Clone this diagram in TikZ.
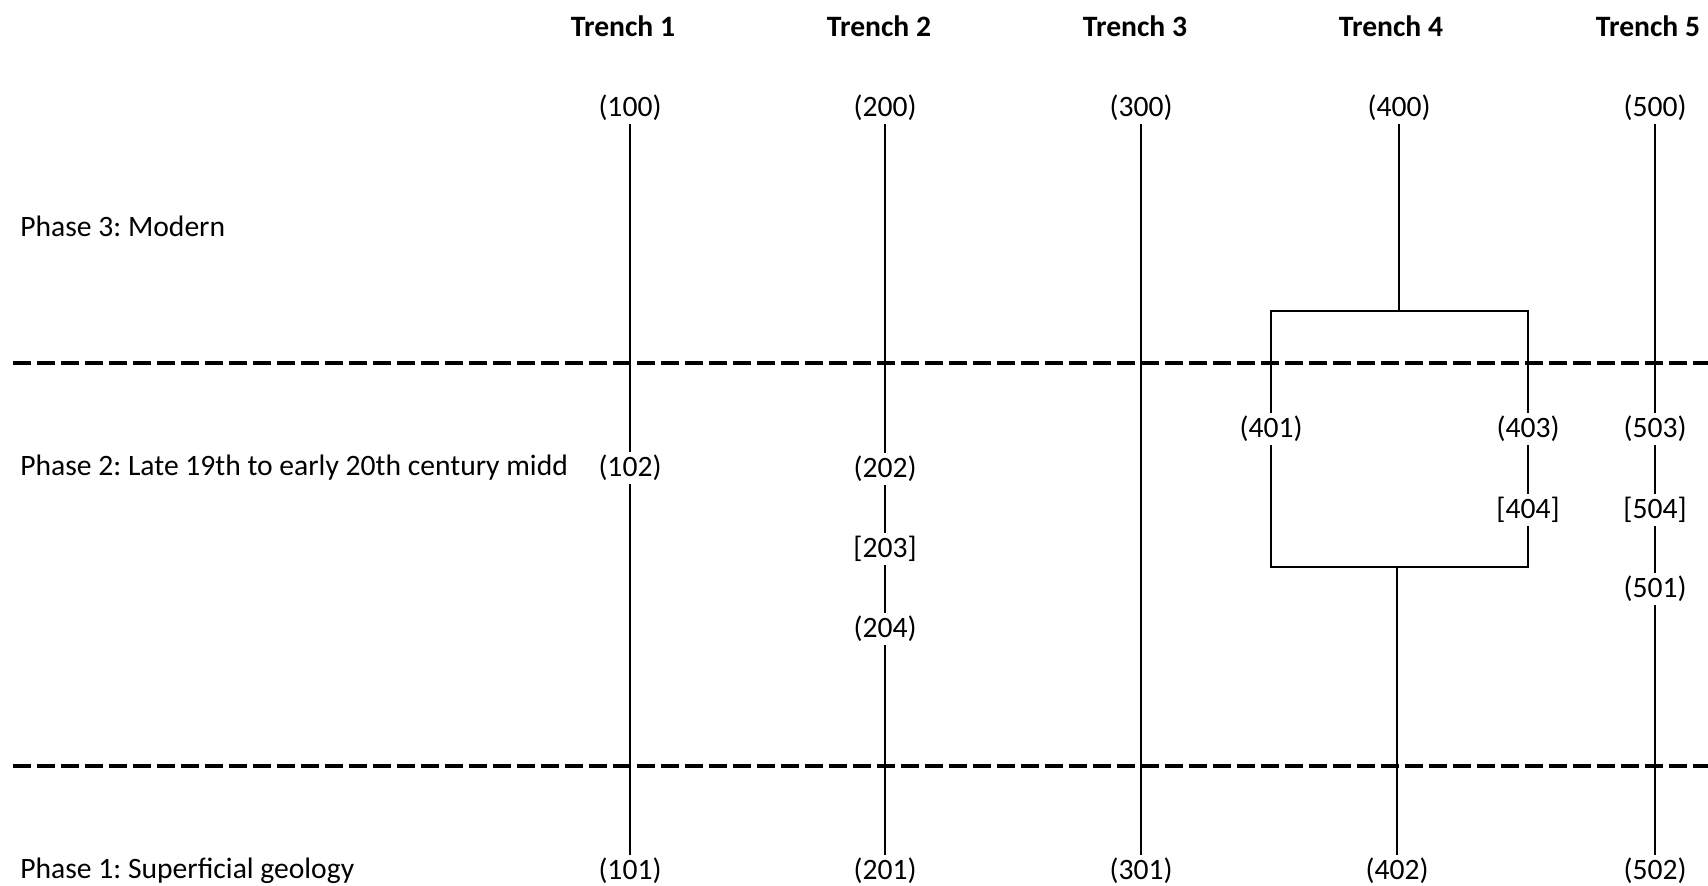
\documentclass[tikz,border=0pt]{standalone}
\usepackage{fontspec}
\setmainfont{Carlito}
\usepackage{tikz}
\tikzset{ctx/.style={inner sep=1.5pt, font=\fontsize{14.8}{17}\selectfont\frenchspacing},
  trench/.style={ctx, font=\fontsize{14.8}{17}\selectfont\bfseries},
  phase/.style={ctx, anchor=west},
  divider/.style={line width=2pt, dash pattern=on 9pt off 3pt},
  link/.style={line width=0.9pt}}

\begin{document}
\begin{tikzpicture}[x=0.5pt,y=-0.5pt]
\useasboundingbox (0,0) rectangle (1708,886);
% trench headings
\node[trench] (t1) at (623,26) {Trench 1};
\node[trench] (t2) at (879,26) {Trench 2};
\node[trench] (t3) at (1135,26) {Trench 3};
\node[trench] (t4) at (1391,26) {Trench 4};
\node[trench] (t5) at (1648,26) {Trench 5};
% phases
\node[phase] (p3) at (17,226) {Phase 3: Modern};
\node[phase] (p2) at (17,468) {Phase 2: Late 19th to early 20th century midd};
\node[phase] (p1) at (17,871) {Phase 1: Superficial geology};
\draw[divider] (13,363) -- (1708,363);
\draw[divider] (13,766) -- (1708,766);
% contexts
\node[ctx] (c100) at (630,108) {(100)};
\node[ctx] (c102) at (630,468) {(102)};
\node[ctx] (c101) at (630,871) {(101)};
\node[ctx] (c200) at (885,108) {(200)};
\node[ctx] (c202) at (885,469) {(202)};
\node[ctx] (c203) at (885,549) {[203]};
\node[ctx] (c204) at (885,629) {(204)};
\node[ctx] (c201) at (885,871) {(201)};
\node[ctx] (c300) at (1141,108) {(300)};
\node[ctx] (c301) at (1141,871) {(301)};
\node[ctx] (c400) at (1399,108) {(400)};
\node[ctx] (c401) at (1271,429) {(401)};
\node[ctx] (c403) at (1528,429) {(403)};
\node[ctx] (c404) at (1528,510) {[404]};
\node[ctx] (c402) at (1397,871) {(402)};
\node[ctx] (c500) at (1655,108) {(500)};
\node[ctx] (c503) at (1655,429) {(503)};
\node[ctx] (c504) at (1655,510) {[504]};
\node[ctx] (c501) at (1655,589) {(501)};
\node[ctx] (c502) at (1655,871) {(502)};
\coordinate (top4) at (1399,311);
\coordinate (bot4) at (1397,567);
% sequences
\draw[link] (c100) -- (c102);
\draw[link] (c102) -- (c101);
\draw[link] (c200) -- (c202);
\draw[link] (c202) -- (c203);
\draw[link] (c203) -- (c204);
\draw[link] (c204) -- (c201);
\draw[link] (c300) -- (c301);
\draw[link] (c400) -- (top4);
\draw[link] (c401) -- (c401 |- top4) -- (c403 |- top4) -- (c403);
\draw[link] (c401) -- (c401 |- bot4) -- (c404 |- bot4) -- (c404);
\draw[link] (c403) -- (c404);
\draw[link] (bot4) -- (c402);
\draw[link] (c500) -- (c503);
\draw[link] (c503) -- (c504);
\draw[link] (c504) -- (c501);
\draw[link] (c501) -- (c502);
\end{tikzpicture}
\end{document}
